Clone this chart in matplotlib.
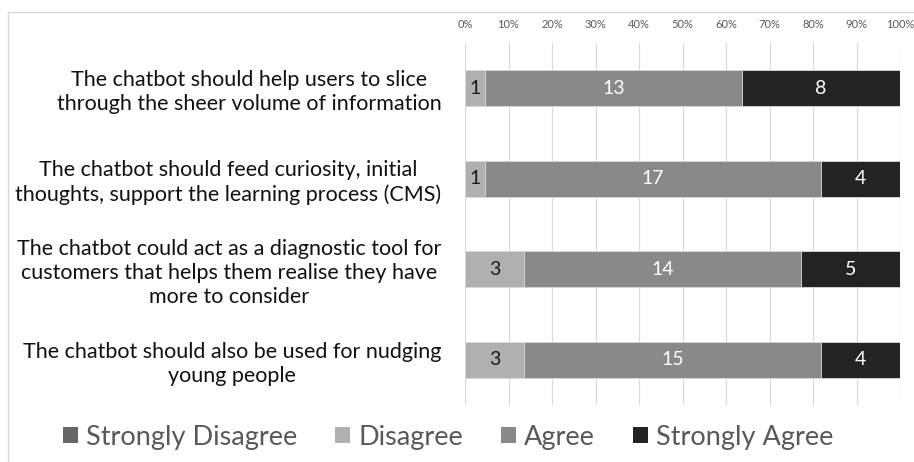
import matplotlib.pyplot as plt
import numpy as np
from matplotlib.lines import Line2D
from matplotlib.patches import Patch

plt.rcParams['font.family'] = ['Lato', 'DejaVu Sans']

# Statements (top to bottom)
statements = [
    'The chatbot should help users to slice\nthrough the sheer volume of information',
    'The chatbot should feed curiosity, initial\nthoughts, support the learning process (CMS)',
    'The chatbot could act as a diagnostic tool for\ncustomers that helps them realise they have\nmore to consider',
    'The chatbot should also be used for nudging\nyoung people',
]
series_names = ['Strongly Disagree', 'Disagree', 'Agree', 'Strongly Agree']
strongly_disagree = [0, 0, 0, 0]
disagree = [1, 1, 3, 3]
agree = [13, 17, 14, 15]
strongly_agree = [8, 4, 5, 4]
tick_labels = ['0%', '10%', '20%', '30%', '40%', '50%', '60%', '70%', '80%', '90%', '100%']

colors = ['#666666', '#b0b0b0', '#898989', '#232323']
label_colors = ['white', '#1a1a1a', 'white', 'white']

counts = np.array([strongly_disagree, disagree, agree, strongly_agree], dtype=float)
totals = counts.sum(axis=0)
shares = counts / totals

fig = plt.figure(figsize=(9.14, 4.62), dpi=100)
ax = fig.add_axes([465 / 914, 57 / 462, 435 / 914, 362 / 462])

y = np.arange(len(statements))
left = np.zeros(len(statements))
for i, name in enumerate(series_names):
    bars = ax.barh(y, shares[i], left=left, height=0.4, color=colors[i],
                   edgecolor='#d9d9d9', linewidth=0.6, label=name, zorder=3)
    for j, b in enumerate(bars):
        if counts[i][j] > 0:
            ax.text(left[j] + shares[i][j] / 2, y[j], str(int(counts[i][j])),
                    ha='center', va='center', fontsize=14,
                    color=label_colors[i], zorder=4)
    left += shares[i]

ax.set_ylim(len(statements) - 0.5, -0.5)
ax.set_xlim(0, 1)
ax.set_yticks(y)
ax.set_yticklabels(statements, fontsize=15.5, multialignment='center',
                   color='#111111', linespacing=1.25)
ax.set_xticks(np.linspace(0, 1, 11))
ax.set_xticklabels(tick_labels, fontsize=8, color='#595959')
ax.xaxis.tick_top()
ax.tick_params(axis='both', length=0)
ax.tick_params(axis='x', pad=9)
ax.tick_params(axis='y', pad=17)
ax.grid(axis='x', color='#d9d9d9', linewidth=0.8, zorder=0)
for s in ax.spines.values():
    s.set_visible(False)

# Legend at the bottom
handles = [Patch(facecolor=c, edgecolor='none') for c in colors]
fig.legend(handles, series_names, loc='center', bbox_to_anchor=(448 / 914, 1 - 437 / 462),
           ncol=4, frameon=False, fontsize=19.5, labelcolor='#595959',
           handlelength=0.55, handleheight=0.55, handletextpad=0.3, columnspacing=1.4)

# Chart border (partially cropped)
fig.add_artist(Line2D([8 / 914, 1], [1 - 12 / 462, 1 - 12 / 462], color='#d9d9d9', linewidth=1))
fig.add_artist(Line2D([8 / 914, 8 / 914], [0, 1 - 12 / 462], color='#d9d9d9', linewidth=1))

fig.savefig('out.png', dpi=100, facecolor='white')
